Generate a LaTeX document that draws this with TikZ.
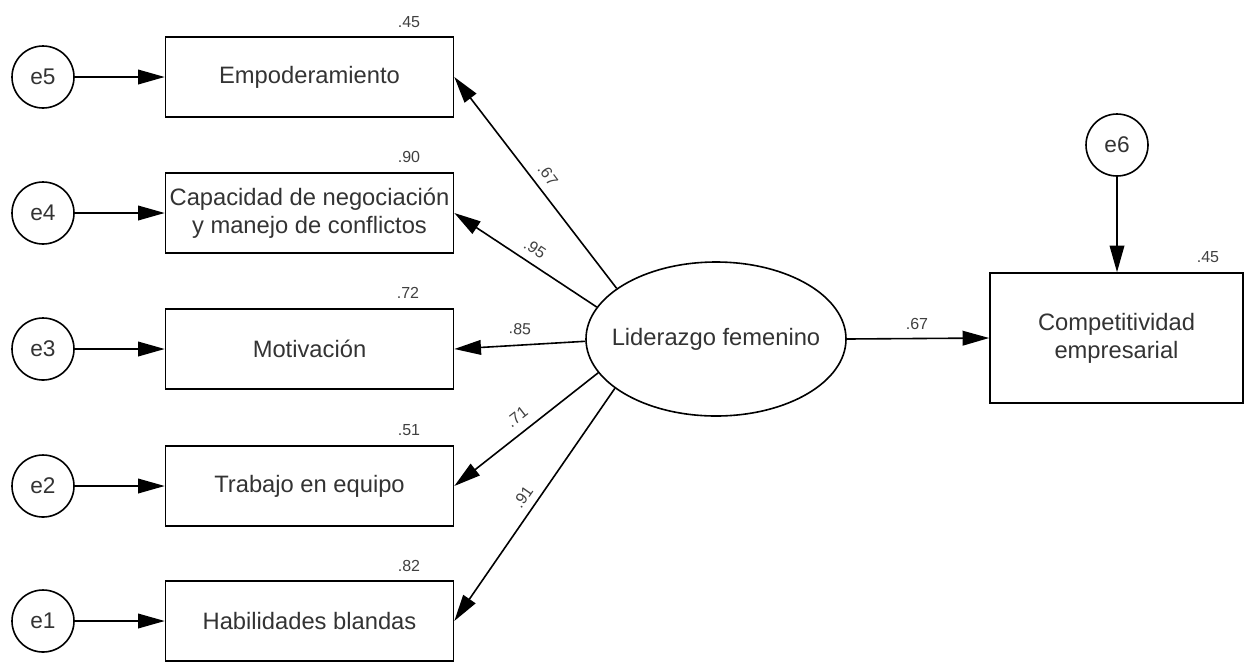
\documentclass[tikz,border=0pt]{standalone}
\usepackage{fontspec}
\setmainfont{Liberation Sans}
\usetikzlibrary{arrows.meta,shapes.geometric}

\tikzset{every picture/.style={line width=0.75pt}}
\tikzset{
  obsbox/.style={draw, line width=1.2pt, minimum width=216pt, minimum height=60pt, inner sep=0pt,
    align=center, font=\fontsize{17.8}{21}\selectfont, text=black!80},
  errcirc/.style={draw, circle, line width=1.2pt, minimum size=46.5pt, inner sep=0pt,
    font=\fontsize{17}{20}\selectfont, text=black!80},
  latent/.style={draw, ellipse, line width=1.2pt, minimum width=195pt, minimum height=115.5pt, inner sep=0pt,
    font=\fontsize{17.8}{21}\selectfont, text=black!80},
  valtext/.style={font=\fontsize{12}{14}\selectfont, text=black!75, inner sep=1pt},
  arr/.style={line width=1.2pt, -{Triangle[length=20pt,width=11pt]}},
  coef/.style={font=\fontsize{12}{14}\selectfont, text=black!75, inner sep=1pt}
}

\begin{document}
\begin{tikzpicture}[x=0.75pt,y=0.75pt,yscale=-1,xscale=1]
\useasboundingbox (0,0) rectangle (1245,662);

%Errors, left column
\node [errcirc] (e5) at (43,77) {e5};
\node [errcirc] (e4) at (43,213) {e4};
\node [errcirc] (e3) at (43,349) {e3};
\node [errcirc] (e2) at (43,486) {e2};
\node [errcirc] (e1) at (43,621) {e1};

%Indicators
\node [obsbox] (emp) at (309.5,77) {Empoderamiento};
\node [obsbox] (cap) at (309.5,213) {Capacidad de negociación\\y manejo de conflictos};
\node [obsbox] (mot) at (309.5,349) {Motivación};
\node [obsbox] (tra) at (309.5,486) {Trabajo en equipo};
\node [obsbox] (hab) at (309.5,621) {Habilidades blandas};

%Latent and outcome
\node [latent] (lid) at (716,339) {\makebox[0pt]{Liderazgo femenino}};
\node [obsbox, minimum width=189.75pt, minimum height=97.5pt] (comp) at (1116.5,338) {Competitividad\\empresarial};
\node [errcirc] (e6) at (1117,145) {e6};

% Text Node
\node [valtext] (r5) at (409,22) {.45};
\node [valtext] (r4) at (409,157) {.90};
\node [valtext] (r3) at (408,293) {.72};
\node [valtext] (r2) at (409,430) {.51};
\node [valtext] (r1) at (409,566) {.82};
\node [valtext] (r6) at (1208,257) {.45};

%Error arrows
\draw [arr] (e5) -- (emp);
\draw [arr] (e4) -- (cap);
\draw [arr] (e3) -- (mot);
\draw [arr] (e2) -- (tra);
\draw [arr] (e1) -- (hab);
\draw [arr] (e6) -- (e6 |- comp.north);

%Loadings
\draw [arr] (lid.153.7) -- (emp.east);
\draw [arr] (lid.165.4) -- (cap.east);
\draw [arr] (lid.181) -- (mot.east);
\draw [arr] (lid.196.6) -- (tra.east);
\draw [arr] (lid.206.8) -- (hab.east);
\draw [arr] (lid.east) -- (comp.west);

% Coefficients
\node [coef, rotate=-53] (w5) at (548,175) {.67};
\node [coef, rotate=-34] (w4) at (535,249) {.95};
\node [coef, rotate=-3] (w3) at (520,329) {.85};
\node [coef, rotate=38] (w2) at (517,417) {.71};
\node [coef, rotate=55] (w1) at (523,497) {.91};
\node [coef] (w6) at (917,324) {.67};

\end{tikzpicture}
\end{document}
